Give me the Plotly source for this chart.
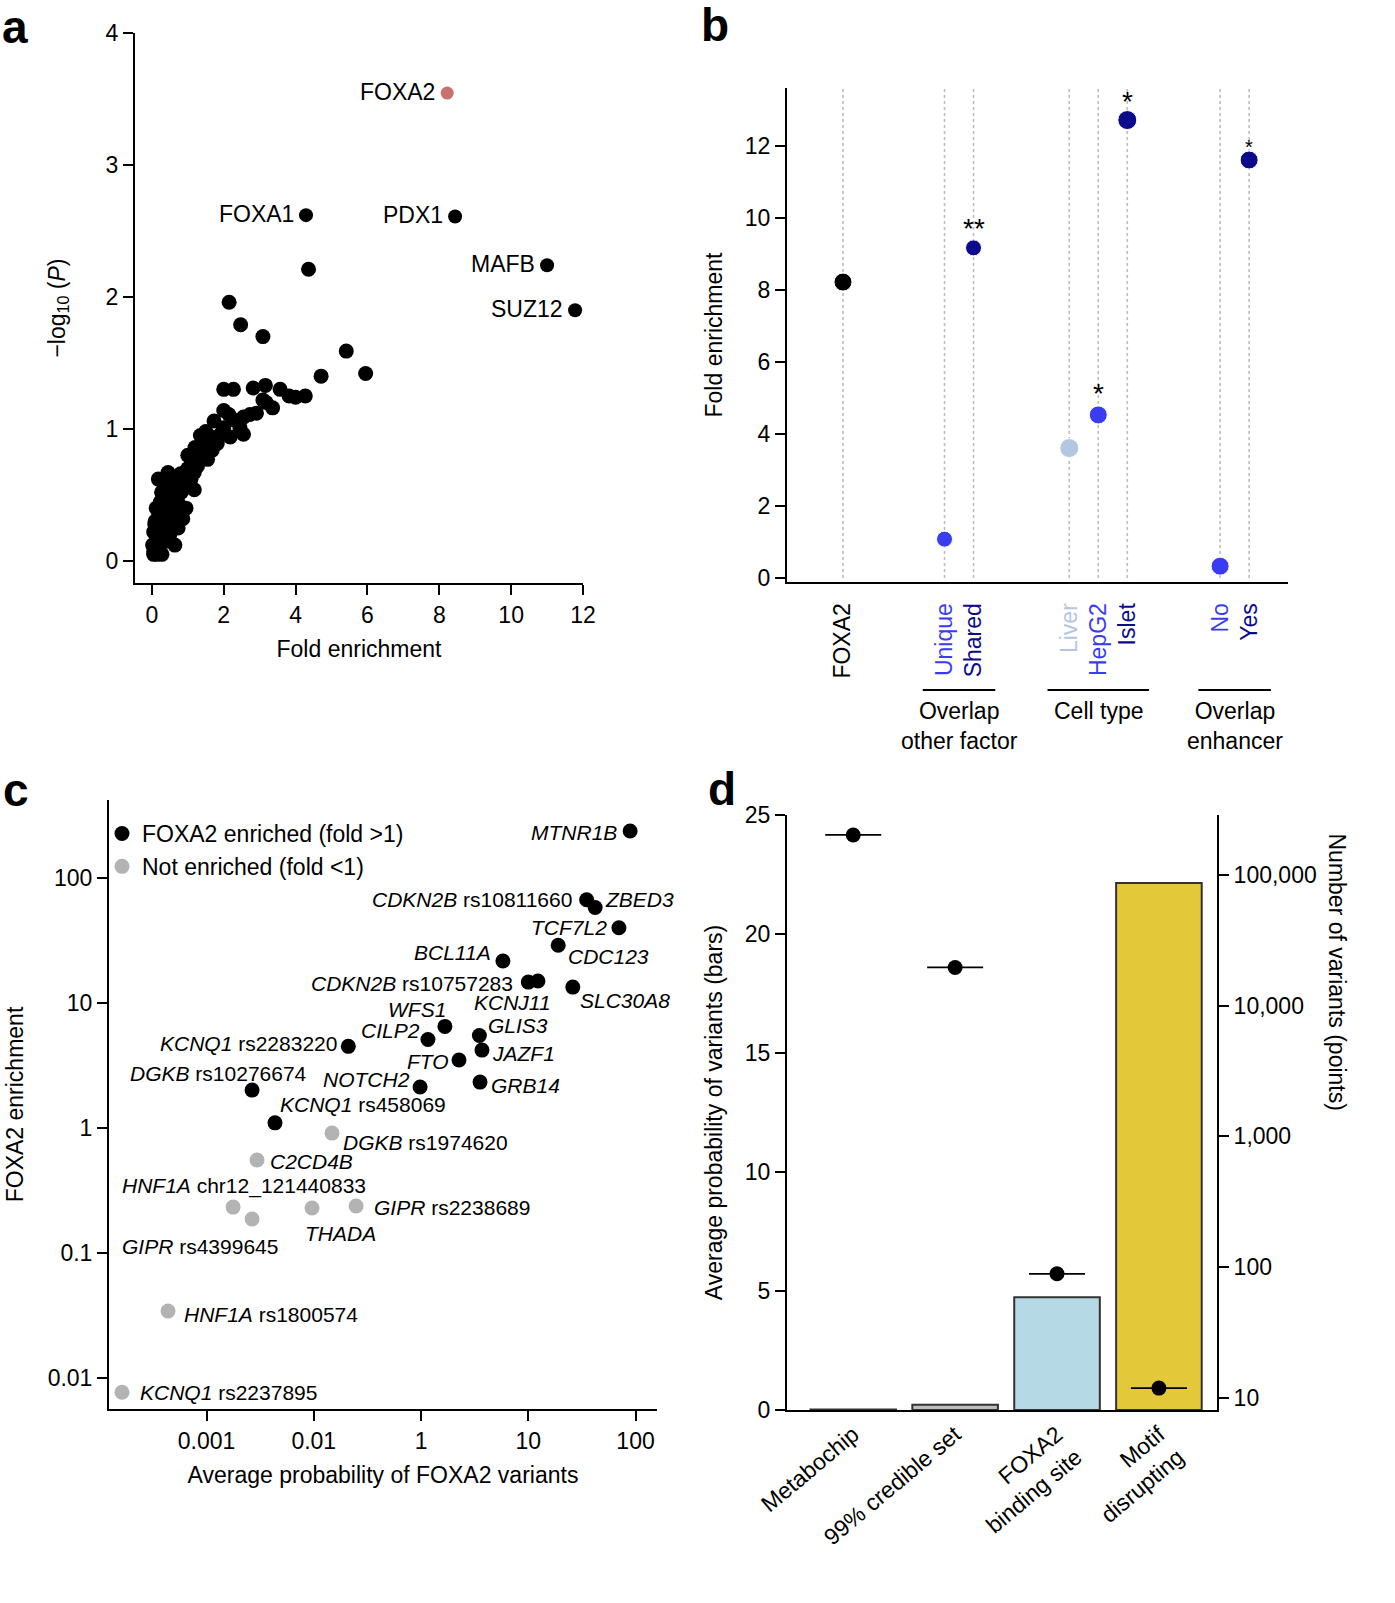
import math
import plotly.graph_objects as go

W, H = 1395, 1603
FONT = "Liberation Sans, Arial, sans-serif"
TICK = 23

# ---------------- Panel a data ----------------
a_x = [4.36, 2.15, 2.47, 3.09, 5.41, 5.95, 4.71, 2.0, 2.27, 2.82, 3.16, 3.57, 3.82, 4.0, 4.27,
       3.09, 3.18, 3.36, 2.91, 2.73, 2.55, 2.0, 1.73, 2.27, 2.55, 2.18, 1.35, 2.0, 1.82, 1.68,
       1.55, 1.36, 1.27, 1.18, 1.0, 1.09, 0.91, 0.82, 1.18, 0.73, 0.95, 0.45, 0.18, 0.27, 0.55,
       0.64, 0.36, 0.18, 0.09, 0.05, 0.14, 0.09, 0.14, 0.05, 0.36, 0.64, 0.5, 0.73, 0.32, 0.23,
       0.86, 0.64, 1.45, 1.64, 1.91, 2.14, 2.45, 0.05, 0.1, 0.15, 0.08, 0.2, 0.3, 0.4, 0.12,
       0.25, 0.35, 0.5, 0.6, 0.7, 0.8, 1.0, 1.2, 1.5, 1.1, 0.9, 0.02, 0.28, 0.45, 0.6]
a_y = [2.21, 1.96, 1.79, 1.70, 1.59, 1.42, 1.40, 1.30, 1.30, 1.31, 1.33, 1.30, 1.25, 1.24, 1.25,
       1.22, 1.20, 1.16, 1.12, 1.11, 1.09, 1.14, 1.06, 1.07, 0.96, 0.94, 0.95, 1.01, 0.89, 0.84,
       0.77, 0.79, 0.72, 0.67, 0.70, 0.62, 0.57, 0.52, 0.54, 0.44, 0.40, 0.67, 0.62, 0.52, 0.49,
       0.35, 0.37, 0.37, 0.30, 0.22, 0.17, 0.10, 0.05, 0.07, 0.27, 0.12, 0.20, 0.25, 0.15, 0.44,
       0.32, 0.44, 0.86, 0.94, 0.96, 1.11, 1.01, 0.05, 0.12, 0.20, 0.28, 0.33, 0.25, 0.15, 0.40,
       0.45, 0.55, 0.60, 0.55, 0.62, 0.66, 0.80, 0.86, 0.98, 0.74, 0.66, 0.12, 0.05, 0.30, 0.45]
a_lab_names = ["FOXA1", "PDX1", "MAFB", "SUZ12"]
a_lab_x = [4.29, 8.44, 11.0, 11.78]
a_lab_y = [2.62, 2.61, 2.24, 1.90]
a_foxa2_x = [8.22]
a_foxa2_y = [3.545]

# ---------------- Panel b data ----------------
b_groups = [["FOXA2"], ["Unique", "Shared"], ["Liver", "HepG2", "Islet"], ["No", "Yes"]]
b_group_titles = ["", "Overlap<br>other factor", "Cell type", "Overlap<br>enhancer"]
b_values = [8.22, 1.08, 9.17, 3.61, 4.53, 12.72, 0.33, 11.61]
b_stars = ["", "", "**", "", "*", "*", "", "*"]

# ---------------- Panel c data ----------------
c_gene = ["MTNR1B", "CDKN2B", "ZBED3", "TCF7L2", "CDC123", "BCL11A", "CDKN2B", "KCNJ11",
          "SLC30A8", "WFS1", "GLIS3", "CILP2", "KCNQ1", "JAZF1", "FTO", "GRB14", "NOTCH2",
          "DGKB", "KCNQ1", "DGKB", "C2CD4B", "HNF1A", "GIPR", "THADA", "GIPR", "HNF1A", "KCNQ1"]
c_variant = ["", "rs10811660", "", "", "", "", "rs10757283", "", "", "", "", "", "rs2283220",
             "", "", "", "", "rs10276674", "rs458069", "rs1974620", "", "chr12_121440833",
             "rs2238689", "", "rs4399645", "rs1800574", "rs2237895"]
c_prob = [89, 35, 42, 70, 19, 5.8, 10, 12.3, 26, 1.67, 3.5, 1.16, 0.21, 3.7, 2.26, 3.55, 0.98,
          0.0266, 0.0435, 0.148, 0.0296, 0.0177, 0.248, 0.0964, 0.0266, 0.00438, 0.00163]
c_enrich = [238, 67, 58, 40, 29, 21.7, 14.7, 15, 13.4, 6.5, 5.5, 5.1, 4.5, 4.2, 3.5, 2.33, 2.13,
            2.01, 1.1, 0.91, 0.555, 0.233, 0.238, 0.229, 0.187, 0.0344, 0.0077]
c_xtickvals = [0.01, 0.1, 1, 10, 100]
c_xticktext = ["0.001", "0.01", "1", "10", "100"]
c_ytickvals = [0.01, 0.1, 1, 10, 100]
c_yticktext = ["0.01", "0.1", "1", "10", "100"]

# ---------------- Panel d data ----------------
d_cats = ["Metabochip", "99% credible set", "FOXA2<br>binding site", "Motif<br>disrupting"]
d_prob = [0.02, 0.22, 4.74, 22.14]
d_count = [202000, 19600, 89, 11.9]
d_rtickvals = [10, 100, 1000, 10000, 100000]
d_rticktext = ["10", "100", "1,000", "10,000", "100,000"]

# ---------------- styles / layout helpers ----------------
def fx(p):
    return p / W

def fy(p):
    return 1 - p / H

BLUE = "#3a3cf2"
NAVY = "#0b0b8c"
LIGHT = "#b3c7e0"
b_colors = ["black", BLUE, NAVY, LIGHT, BLUE, NAVY, BLUE, NAVY]
b_sizes = [18, 16, 16, 19, 18, 19, 18, 18]
b_star_sizes = [28, 28, 28, 28, 28, 28, 28, 20]
b_star_shift = [4, 4, 2, 4, 4, 1, 4, 0]
b_gaps = [3.5, 3.3, 3.2]

fig = go.Figure()

# ---- Panel a ----
fig.add_trace(go.Scatter(x=a_x, y=a_y, mode="markers", marker=dict(color="black", size=15, opacity=1),
                         xaxis="x", yaxis="y", showlegend=False, cliponaxis=False))
fig.add_trace(go.Scatter(x=a_lab_x, y=a_lab_y, mode="markers", marker=dict(color="black", size=14, opacity=1),
                         xaxis="x", yaxis="y", showlegend=False, cliponaxis=False))
fig.add_trace(go.Scatter(x=a_foxa2_x, y=a_foxa2_y, mode="markers",
                         marker=dict(color="#c7726e", size=13, opacity=1),
                         xaxis="x", yaxis="y", showlegend=False, cliponaxis=False))
ann = []
for n, x, y in zip(a_lab_names + ["FOXA2"], a_lab_x + a_foxa2_x, a_lab_y + a_foxa2_y):
    ann.append(dict(x=x, y=y, xref="x", yref="y", text=n, showarrow=False, xanchor="right",
                    xshift=-10, yshift=1, font=dict(size=23, color="black")))

# ---- Panel b ----
b_names, b_pos, b_group_mid, b_group_span = [], [], [], []
pos = 0.0
for gi, grp in enumerate(b_groups):
    if gi > 0:
        pos += b_gaps[gi - 1]
    start = pos
    for j, name in enumerate(grp):
        b_names.append(name)
        b_pos.append(pos)
        if j < len(grp) - 1:
            pos += 1.0
    b_group_mid.append((start + pos) / 2)
    b_group_span.append((start, pos))

shapes = []
B_TOP = 13.61
for p in b_pos:
    shapes.append(dict(type="line", xref="x2", yref="y2", x0=p, x1=p, y0=0, y1=B_TOP,
                       line=dict(color="#bdbdbd", width=1.6, dash="dot"), layer="below"))
fig.add_trace(go.Scatter(x=b_pos, y=b_values, mode="markers",
                         marker=dict(color=b_colors, size=b_sizes, opacity=1), xaxis="x2", yaxis="y2",
                         showlegend=False, cliponaxis=False))
for p, v, s, fs, sh in zip(b_pos, b_values, b_stars, b_star_sizes, b_star_shift):
    if s:
        ann.append(dict(x=p, y=v, xref="x2", yref="y2", text=s, showarrow=False,
                        yanchor="bottom", yshift=sh, font=dict(size=fs, color="black")))
for title, mid, (s0, s1) in zip(b_group_titles, b_group_mid, b_group_span):
    if not title:
        continue
    shapes.append(dict(type="line", xref="x2", yref="paper", x0=s0 - 0.75, x1=s1 + 0.75,
                       y0=fy(690), y1=fy(690), line=dict(color="black", width=2)))
    ann.append(dict(x=mid, y=fy(696), xref="x2", yref="paper", text=title, showarrow=False,
                    yanchor="top", font=dict(size=23, color="black")))
b_ticktext = [f"<span style='color:{c}'>{n}</span>" for n, c in zip(b_names, b_colors)]

# ---- Panel c ----
c_place = [("right", -11, -2), ("right", -13, 0), ("left", 8, 8), ("right", -10, 0),
           ("left", 8, -11), ("right", -10, 8), ("right", -13, -1), ("center", -25, -22),
           ("left", 5, -13), ("right", 3, 17), ("left", 7, 10), ("right", -6, 9),
           ("right", -9, 3), ("left", 8, -3), ("right", -8, -2), ("left", 9, -3),
           ("right", -8, 7), ("right", 57, 17), ("left", 3, 18), ("left", 9, -9),
           ("left", 11, -2), ("left", -113, 21), ("left", 16, -2), ("left", -9, -25),
           ("left", -132, -27), ("left", 14, -4), ("left", 16, 0)]
enr_x = [x for x, y in zip(c_prob, c_enrich) if y > 1]
enr_y = [y for y in c_enrich if y > 1]
not_x = [x for x, y in zip(c_prob, c_enrich) if y <= 1]
not_y = [y for y in c_enrich if y <= 1]
fig.add_trace(go.Scatter(x=enr_x, y=enr_y, mode="markers", name="FOXA2 enriched (fold >1)",
                         marker=dict(color="black", size=15, opacity=1), xaxis="x3", yaxis="y3",
                         cliponaxis=False, legend="legend"))
fig.add_trace(go.Scatter(x=not_x, y=not_y, mode="markers", name="Not enriched (fold <1)",
                         marker=dict(color="#b3b3b3", size=15, opacity=1), xaxis="x3", yaxis="y3",
                         cliponaxis=False, legend="legend"))
for g, v, x, y, (anc, dx, dy) in zip(c_gene, c_variant, c_prob, c_enrich, c_place):
    txt = f"<i>{g}</i>" + (f" {v}" if v else "")
    ann.append(dict(x=math.log10(x), y=math.log10(y), xref="x3", yref="y3", text=txt, showarrow=False,
                    xanchor=anc, xshift=dx, yshift=dy, font=dict(size=21, color="black")))

# ---- Panel d ----
fig.add_trace(go.Bar(x=d_cats, y=d_prob, width=0.84,
                     marker=dict(color=["#bdbdbd", "#bdbdbd", "#b6d9e6", "#e3c93a"],
                                 line=dict(color="#333333", width=2)),
                     xaxis="x4", yaxis="y4", showlegend=False))
fig.add_trace(go.Scatter(x=d_cats, y=d_count, mode="markers",
                         marker=dict(symbol="line-ew", size=40, line=dict(color="black", width=1.8)),
                         xaxis="x4", yaxis="y5", showlegend=False, cliponaxis=False))
fig.add_trace(go.Scatter(x=d_cats, y=d_count, mode="markers",
                         marker=dict(color="black", size=15, opacity=1), xaxis="x4", yaxis="y5",
                         showlegend=False, cliponaxis=False))
ann.append(dict(x=fx(1352), y=fy(1112), xref="paper", yref="paper", text="Number of variants (points)",
                showarrow=False, textangle=90, font=dict(size=23, color="black")))

# ---- panel letters ----
for letter, x, y in [("a", 0, 27), ("b", 699, 25), ("c", 1, 790), ("d", 706, 789)]:
    ann.append(dict(x=fx(x), y=fy(y), xref="paper", yref="paper", text=f"<b>{letter}</b>",
                    showarrow=False, xanchor="left", yanchor="middle", font=dict(size=46, color="black")))

ax = dict(showline=True, linecolor="black", linewidth=2, ticks="outside", ticklen=10, tickwidth=2,
          tickcolor="black", showgrid=False, zeroline=False, tickfont=dict(size=TICK, color="black"),
          automargin=False)
tf = dict(size=TICK, color="black")

fig.update_layout(
    width=W, height=H, margin=dict(l=0, r=0, t=0, b=0, autoexpand=False),
    paper_bgcolor="white", plot_bgcolor="white",
    font=dict(family=FONT, color="black"),
    xaxis=dict(ax, domain=[fx(135), fx(583)], range=[-0.47, 12.0], tickvals=[0, 2, 4, 6, 8, 10, 12],
               anchor="y", title=dict(text="Fold enrichment", font=tf, standoff=14)),
    yaxis=dict(ax, domain=[fy(583), fy(33)], range=[-0.167, 4.0], tickvals=[0, 1, 2, 3, 4],
               anchor="x", title=dict(text="\u2212log<sub>10</sub> (<i>P</i>)", font=tf, standoff=34)),
    xaxis2=dict(ax, domain=[fx(787), fx(1288)], range=[-1.93, 15.34], tickvals=b_pos,
                ticktext=b_ticktext, tickangle=-90, ticks="", ticklabelstandoff=10, anchor="y2"),
    yaxis2=dict(ax, domain=[fy(582), fy(88)], range=[-0.11, B_TOP], tickvals=[0, 2, 4, 6, 8, 10, 12],
                anchor="x2", title=dict(text="Fold enrichment", font=tf, standoff=16)),
    xaxis3=dict(ax, domain=[fx(109), fx(657)], type="log", range=[-2.909, 2.2], tickvals=c_xtickvals,
                ticktext=c_xticktext, anchor="y3",
                title=dict(text="Average probability of FOXA2 variants", font=tf, standoff=14)),
    yaxis3=dict(ax, domain=[fy(1409), fy(800)], type="log", range=[-2.248, 2.624], tickvals=c_ytickvals,
                ticktext=c_yticktext, anchor="x3",
                title=dict(text="FOXA2 enrichment", font=tf, standoff=18)),
    xaxis4=dict(ax, domain=[fx(787), fx(1217)], type="category", range=[-0.65, 3.57], ticks="",
                tickangle=-40, anchor="y4", categoryorder="array", categoryarray=d_cats),
    yaxis4=dict(ax, domain=[fy(1410), fy(815)], range=[0, 25], tickvals=[0, 5, 10, 15, 20, 25],
                anchor="x4", title=dict(text="Average probability of variants (bars)", font=tf, standoff=16)),
    yaxis5=dict(ax, type="log", range=[0.908, 5.458], tickvals=d_rtickvals, ticktext=d_rticktext,
                overlaying="y4", side="right", anchor="x4"),
    legend=dict(x=fx(102), y=fy(812), xanchor="left", yanchor="top", font=dict(size=23, color="black"),
                bgcolor="rgba(0,0,0,0)", itemwidth=30, tracegroupgap=0),
    shapes=shapes, annotations=ann, bargap=0.16,
)

fig.write_html("out.html", config={"displayModeBar": False},
               post_script="document.body.style.margin='0px';")
